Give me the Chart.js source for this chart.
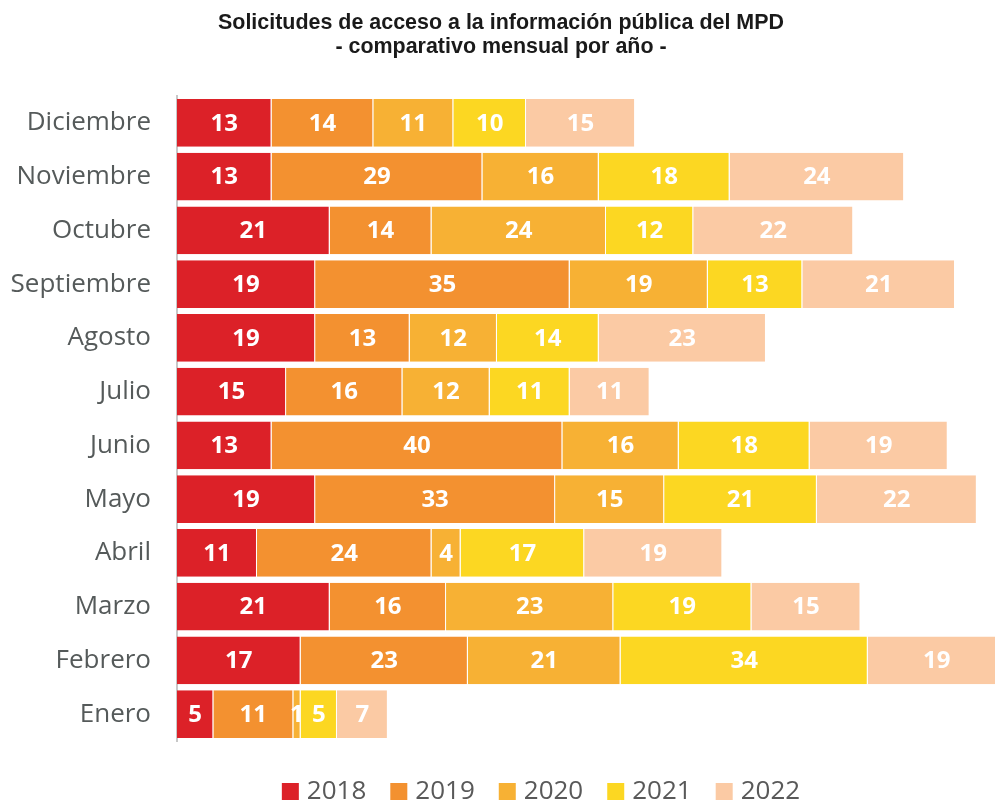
<!DOCTYPE html>
<html>
<head>
<meta charset="utf-8">
<script src="https://cdn.jsdelivr.net/npm/chart.js@4.4.1/dist/chart.umd.min.js"></script>
<style>
html,body{margin:0;padding:0;background:#fff;overflow:hidden;}
#wrap{width:995px;height:800px;}
</style>
</head>
<body>
<div id="wrap"><canvas id="c" width="995" height="800"></canvas></div>
<script>
const months = ['Enero','Febrero','Marzo','Abril','Mayo','Junio','Julio','Agosto','Septiembre','Octubre','Noviembre','Diciembre'];
const years = ['2018','2019','2020','2021','2022'];
const v2018 = [5, 17, 21, 11, 19, 13, 15, 19, 19, 21, 13, 13];
const v2019 = [11, 23, 16, 24, 33, 40, 16, 13, 35, 14, 29, 14];
const v2020 = [1, 21, 23, 4, 15, 16, 12, 12, 19, 24, 16, 11];
const v2021 = [5, 34, 19, 17, 21, 18, 11, 14, 13, 12, 18, 10];
const v2022 = [7, 19, 15, 19, 22, 19, 11, 23, 21, 22, 24, 15];
const colors = ['#DC2128', '#F39130', '#F7B134', '#FCD722', '#FBCAA4'];
const titleLines = ['Solicitudes de acceso a la información pública del MPD', '- comparativo mensual por año -'];

const series = [v2018, v2019, v2020, v2021, v2022];
const datasets = series.map((d, i) => ({
  label: years[i],
  data: d,
  backgroundColor: colors[i],
  borderColor: '#ffffff',
  borderWidth: {left: 0, right: 1, top: 0, bottom: 0},
  borderSkipped: false,
  barPercentage: 1,
  categoryPercentage: 0.893
}));

const valueLabels = {
  id: 'valueLabels',
  afterDatasetsDraw(chart) {
    const ctx = chart.ctx;
    ctx.save();
    ctx.font = 'bold 24px "Open Sans"';
    ctx.fillStyle = '#ffffff';
    ctx.textAlign = 'center';
    ctx.textBaseline = 'middle';
    chart.data.datasets.forEach((ds, di) => {
      const meta = chart.getDatasetMeta(di);
      meta.data.forEach((el, i) => {
        const cx = (el.x + el.base) / 2;
        ctx.fillText(String(ds.data[i]), cx, el.y + 1);
      });
    });
    ctx.restore();
  }
};

const condensedTitle = {
  id: 'condensedTitle',
  afterDraw(chart) {
    const ctx = chart.ctx;
    ctx.save();
    ctx.font = 'bold 22px "Liberation Sans"';
    ctx.fillStyle = '#1a1a1a';
    ctx.textAlign = 'center';
    ctx.textBaseline = 'alphabetic';
    const w1 = ctx.measureText(titleLines[0]).width;
    const k = 566 / w1;
    const cx = 501;
    const baselines = [29, 53];
    titleLines.forEach((t, i) => {
      ctx.save();
      ctx.translate(cx, baselines[i]);
      ctx.scale(k, 1);
      ctx.fillText(t, 0, 0);
      ctx.restore();
    });
    ctx.restore();
  }
};

const customLegend = {
  id: 'customLegend',
  afterDraw(chart) {
    const ctx = chart.ctx;
    ctx.save();
    ctx.font = '26px "Open Sans"';
    ctx.textBaseline = 'middle';
    ctx.textAlign = 'left';
    const box = 17, gapText = 8, gapItem = 24;
    const widths = years.map(y => box + gapText + ctx.measureText(y).width);
    const total = widths.reduce((a, b) => a + b, 0) + gapItem * (years.length - 1);
    let x = 541 - total / 2;
    const cy = 791;
    years.forEach((y, i) => {
      ctx.fillStyle = colors[i];
      ctx.fillRect(x, cy - 8, box, 18);
      ctx.fillStyle = '#595959';
      ctx.fillText(y, x + box + gapText, cy + 1);
      x += widths[i] + gapItem;
    });
    ctx.restore();
  }
};

new Chart(document.getElementById('c'), {
  type: 'bar',
  data: { labels: months, datasets },
  options: {
    indexAxis: 'y',
    responsive: false,
    animation: false,
    layout: { padding: { left: 0, right: 0, top: 96, bottom: 59 } },
    scales: {
      x: { display: false, stacked: true, min: 0, max: 112.5 },
      y: {
        stacked: true,
        reverse: true,
        afterFit(s) { s.width = 177; },
        grid: { display: false, drawTicks: false },
        border: { display: true, color: '#C8C8C8', width: 2 },
        ticks: {
          padding: 26,
          color: '#555A5A',
          font: { family: '"Open Sans"', size: 26 }
        }
      }
    },
    plugins: {
      legend: { display: false },
      tooltip: { enabled: false },
      title: { display: false }
    }
  },
  plugins: [valueLabels, condensedTitle, customLegend]
});
</script>
</body>
</html>
